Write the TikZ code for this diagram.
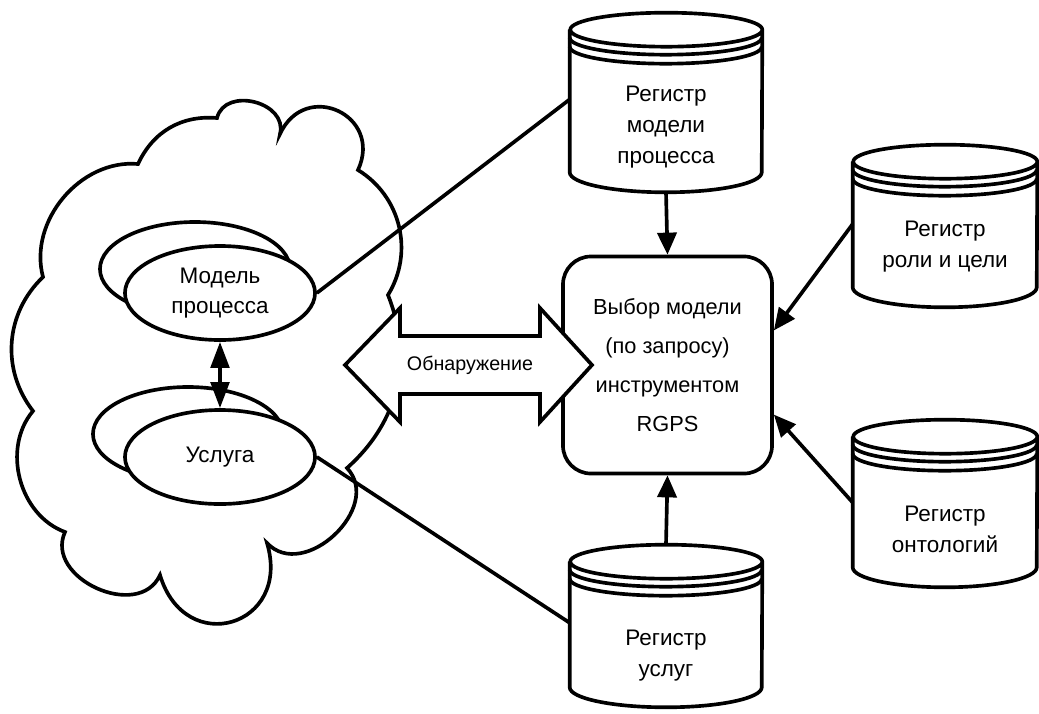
\documentclass[tikz,border=0pt]{standalone}
\usepackage{fontspec}
\setmainfont{Liberation Sans}
\usetikzlibrary{arrows.meta,calc,shapes.geometric}
\tikzset{
  outline/.style={line width=2.6pt, draw=black},
  register/.style={
    minimum width=4.7cm, minimum height=3cm, inner sep=0pt,
    align=center, font=\fontsize{16}{22}\selectfont
  },
  model/.style={
    ellipse, outline, fill=white, minimum width=4.75cm, minimum height=2.35cm,
    inner sep=0pt, align=center, font=\fontsize{16}{21}\selectfont
  },
  choicebox/.style={
    outline, fill=white, rounded corners=0.7cm, minimum width=5.225cm,
    minimum height=5.425cm, align=center, font=\fontsize{15.5}{27.7}\selectfont
  },
  flow/.style={-{Triangle[length=5.5mm,width=4.8mm]}, line width=2.6pt},
  pair/.style={{Triangle[length=6.5mm,width=4.6mm]}-{Triangle[length=6.5mm,width=4.6mm]}, line width=2.8pt},
  link/.style={line width=2.6pt}
}

\begin{document}
\begin{tikzpicture}[x=0.025cm,y=0.025cm]
  \useasboundingbox (0,0) rectangle (1039,-713);
  % cloud
  \draw[outline,fill=white]
    (138,-164) to[bend left=35] (217,-118)
    to[bend left=90,looseness=1.3] (280,-134)
    to[bend left=90,looseness=1.8] (358,-170)
    to[bend left=45] (388,-295)
    to[bend left=35] (347,-468)
    to[bend left=90,looseness=1.25] (267,-543)
    to[bend left=90,looseness=2] (160,-575)
    to[bend left=90,looseness=1.25] (65,-532)
    to[bend left=55] (33,-411)
    to[bend left=42] (43,-277)
    to[bend left=55] cycle;
  % models inside the cloud
  \node[model] (procback) at (195,-269) {};
  \node[model] (procmodel) at (220,-293) {Модель\\процесса};
  \node[model] (servback) at (188,-434) {};
  \node[model] (service) at (220,-457) {Услуга};
  \draw[pair] (procmodel.south) -- (service.north);
  % selection tool
  \node[choicebox] (choice) at (667.5,-365)
    {Выбор модели\\(по запросу)\\инструментом\\RGPS};
  % registers
  \node[register,minimum width=4.8cm,minimum height=3.25cm] (regproc) at (666,-127)
    {Регистр\\модели\\процесса};
  \node[register,minimum width=4.6cm] (regrole) at (945,-247)
    {Регистр\\роли и цели};
  \node[register,minimum width=4.6cm,minimum height=2.9cm] (regont) at (945,-529)
    {Регистр\\онтологий};
  \node[register,minimum width=4.8cm,minimum height=2.55cm] (regserv) at (666,-656)
    {Регистр\\услуг};
  \foreach \r/\h/\t in {regproc/2.4cm/0.8cm,regrole/2.3cm/0.625cm,
                        regont/2.3cm/0.85cm,regserv/2.4cm/1.075cm}{
    \draw[outline] ([yshift=\t]\r.north west) -- ([yshift=0.5cm]\r.south west)
      arc[start angle=180,end angle=360,x radius=\h,y radius=0.5cm]
      -- ([yshift=\t]\r.north east)
      arc[start angle=0,end angle=360,x radius=\h,y radius=0.425cm];
    \draw[outline] ([yshift=\t-0.2cm]\r.north west)
      arc[start angle=180,end angle=360,x radius=\h,y radius=0.425cm];
    \draw[outline] ([yshift=\t-0.425cm]\r.north west)
      arc[start angle=180,end angle=360,x radius=\h,y radius=0.425cm];
  }
  % discovery
  \draw[outline,fill=white] (345,-365) -- (400,-308) -- (400,-336) -- (540,-336)
    -- (540,-308) -- (592,-365) -- (540,-422) -- (540,-394) -- (400,-394)
    -- (400,-422) -- cycle;
  \node[font=\fontsize{14}{16}\selectfont] (disc) at (470,-365) {Обнаружение};
  % connections
  \draw[link] (procmodel.east) -- (regproc.164);
  \draw[link] (service.east) -- (regserv.161);
  \draw[flow] (regproc.south) -- (choice.north);
  \draw[flow] ([yshift=1.5cm]regserv.north) -- (choice.south);
  \draw[flow] (regrole.166.5) -- (choice.18);
  \draw[flow] (regont.164) -- (choice.-25);
\end{tikzpicture}
\end{document}
